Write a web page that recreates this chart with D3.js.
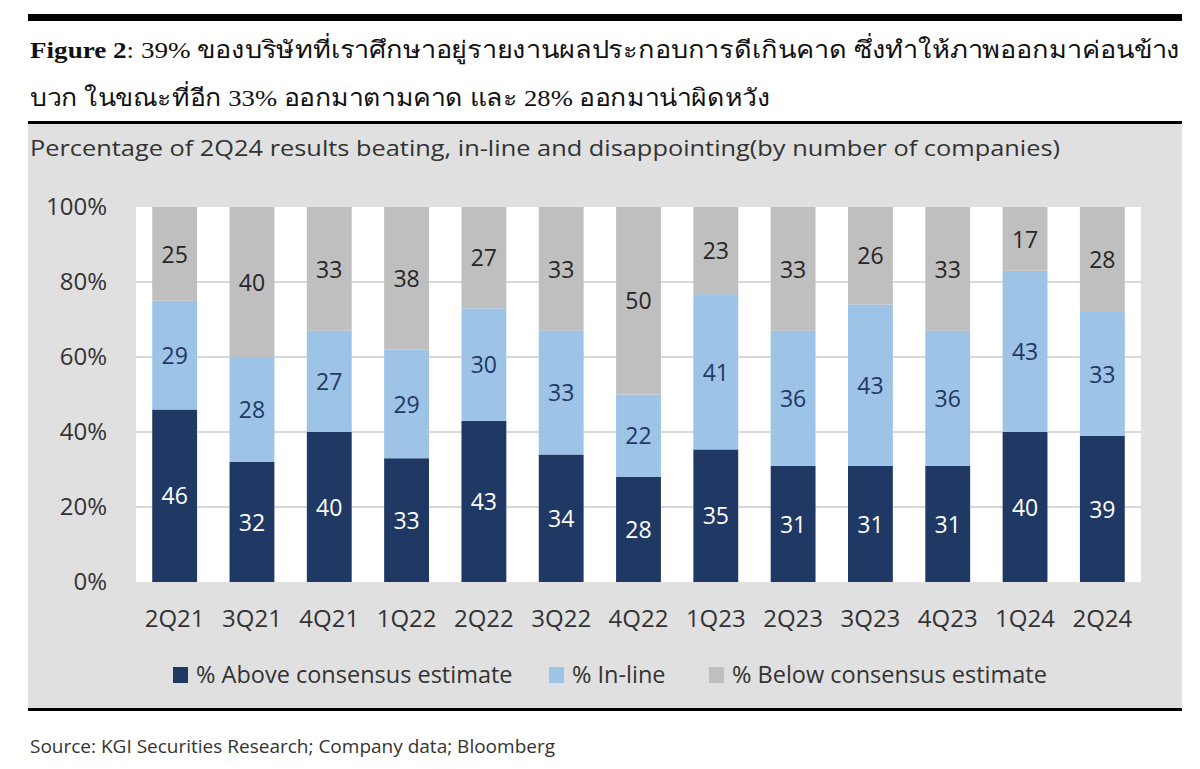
<!DOCTYPE html>
<html>
<head>
<meta charset="utf-8">
<script src="https://cdn.jsdelivr.net/npm/d3@7"></script>
<style>
  body { margin: 0; background: #fff; }
  svg text { font-family: "Open Sans", "Noto Sans", sans-serif; }
</style>
</head>
<body>
<div id="chart"></div>
<script>
// data
var quarters = ["2Q21", "3Q21", "4Q21", "1Q22", "2Q22", "3Q22", "4Q22", "1Q23", "2Q23", "3Q23", "4Q23", "1Q24", "2Q24"];
var above = [46, 32, 40, 33, 43, 34, 28, 35, 31, 31, 31, 40, 39];
var inLine = [29, 28, 27, 29, 30, 33, 22, 41, 36, 43, 36, 43, 33];
var below = [25, 40, 33, 38, 27, 33, 50, 23, 33, 26, 33, 17, 28];
var seriesNames = ["% Above consensus estimate", "% In-line", "% Below consensus estimate"];
var yTicks = [0, 0.2, 0.4, 0.6, 0.8, 1];

var colors = ["#1f3864", "#9dc3e6", "#bfbfbf"];
var labelColors = ["#ffffff", "#1f3864", "#262626"];

var W = 1200, H = 769;
var svg = d3.select("#chart").append("svg")
  .attr("width", W)
  .attr("height", H);

// header rules + panel
svg.append("rect").attr("x", 28).attr("y", 14).attr("width", 1154).attr("height", 7).attr("fill", "#000");
svg.append("rect").attr("x", 28).attr("y", 124).attr("width", 1154).attr("height", 585).attr("fill", "#e0e0e0");
svg.append("rect").attr("x", 28).attr("y", 121).attr("width", 1154).attr("height", 3).attr("fill", "#000");
svg.append("rect").attr("x", 28).attr("y", 708).attr("width", 1154).attr("height", 3).attr("fill", "#000");

// title
var t1 = svg.append("text").attr("x", 30).attr("y", 58)
  .attr("textLength", 1150).attr("lengthAdjust", "spacingAndGlyphs")
  .style("font-size", "24px").attr("fill", "#111");
t1.append("tspan").style("font-family", "'Liberation Serif', serif").style("font-weight", "bold").text("Figure 2");
t1.append("tspan").style("font-family", "'Liberation Serif', serif").text(": 39% ของบริษัทที่เราศึกษาอยู่รายงานผลประกอบการดีเกินคาด ซึ่งทำให้ภาพออกมาค่อนข้าง");

svg.append("text").attr("x", 30).attr("y", 106)
  .attr("textLength", 740).attr("lengthAdjust", "spacingAndGlyphs")
  .style("font-family", "'Liberation Serif', serif")
  .style("font-size", "24px").attr("fill", "#111")
  .text("บวก ในขณะที่อีก 33% ออกมาตามคาด และ 28% ออกมาน่าผิดหวัง");

svg.append("text").attr("x", 30).attr("y", 156)
  .attr("textLength", 1030).attr("lengthAdjust", "spacingAndGlyphs")
  .style("font-size", "22px").attr("fill", "#333")
  .text("Percentage of 2Q24 results beating, in-line and disappointing(by number of companies)");

// plot
var plotLeft = 136, plotRight = 1141, plotTop = 207, plotBottom = 582;

svg.append("rect").attr("x", plotLeft).attr("y", plotTop)
  .attr("width", plotRight - plotLeft).attr("height", plotBottom - plotTop).attr("fill", "#fff");

var x = d3.scaleBand().domain(quarters).range([plotLeft, plotRight]).paddingInner(0.42).paddingOuter(0.21);
var y = d3.scaleLinear().domain([0, 1]).range([plotBottom, plotTop]);

// gridlines
svg.append("g").selectAll("line")
  .data(yTicks.slice(1, -1))
  .enter().append("line")
  .attr("x1", plotLeft).attr("x2", plotRight)
  .attr("y1", function (d) { return y(d); })
  .attr("y2", function (d) { return y(d); })
  .attr("stroke", "#d9d9d9").attr("stroke-width", 2);

var table = quarters.map(function (q, i) {
  return { q: q, a: above[i], b: inLine[i], c: below[i] };
});
var stack = d3.stack().keys(["a", "b", "c"]).offset(d3.stackOffsetExpand);
var layers = stack(table);

var groups = svg.append("g").selectAll("g")
  .data(layers)
  .enter().append("g")
  .attr("fill", function (d, i) { return colors[i]; });

groups.selectAll("rect")
  .data(function (d) { return d; })
  .enter().append("rect")
  .attr("x", function (d) { return x(d.data.q); })
  .attr("width", x.bandwidth())
  .attr("y", function (d) { return y(d[1]); })
  .attr("height", function (d) { return y(d[0]) - y(d[1]); });

// value labels
layers.forEach(function (layer, li) {
  svg.append("g").selectAll("text")
    .data(layer)
    .enter().append("text")
    .attr("x", function (d) { return x(d.data.q) + x.bandwidth() / 2; })
    .attr("y", function (d) { return (y(d[0]) + y(d[1])) / 2; })
    .attr("dy", "0.38em")
    .attr("text-anchor", "middle")
    .attr("fill", labelColors[li])
    .style("font-size", "23px")
    .text(function (d) { return d.data[layer.key]; });
});

// axes
var yAxis = svg.append("g")
  .attr("transform", "translate(" + (plotLeft - 26) + ",0)")
  .call(d3.axisLeft(y).tickValues(yTicks).tickFormat(d3.format(".0%")).tickSize(0));
yAxis.select(".domain").remove();
yAxis.selectAll("text").style("font-size", "24px").attr("fill", "#333");

var xAxis = svg.append("g")
  .attr("transform", "translate(0," + plotBottom + ")")
  .call(d3.axisBottom(x).tickSize(0).tickPadding(28));
xAxis.select(".domain").remove();
xAxis.selectAll("text").style("font-size", "24px").attr("fill", "#333");

// legend
var legendX = [173, 549, 709];
var legend = svg.append("g").selectAll("g")
  .data(seriesNames)
  .enter().append("g")
  .attr("transform", function (d, i) { return "translate(" + legendX[i] + ",675)"; });

legend.append("rect")
  .attr("x", 0).attr("y", -8).attr("width", 15).attr("height", 16)
  .attr("fill", function (d, i) { return colors[i]; });

legend.append("text")
  .attr("x", 23).attr("y", 0).attr("dy", "0.36em")
  .style("font-size", "23.5px").attr("fill", "#333")
  .text(function (d) { return d; });

// source
svg.append("text").attr("x", 30).attr("y", 753)
  .style("font-size", "19px").attr("fill", "#333")
  .text("Source: KGI Securities Research; Company data; Bloomberg");
</script>
</body>
</html>
